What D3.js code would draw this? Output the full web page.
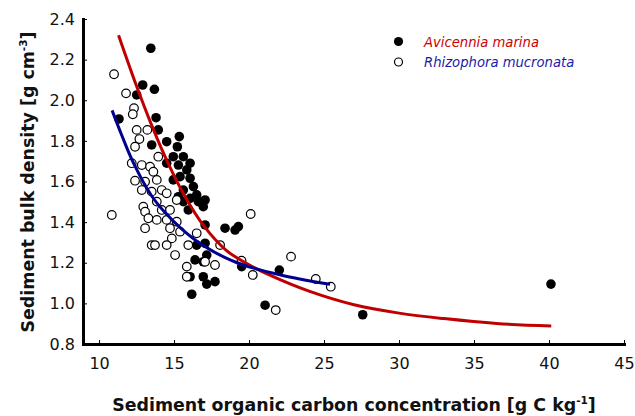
<!DOCTYPE html>
<html><head><meta charset="utf-8">
<script src="https://cdn.jsdelivr.net/npm/d3@7"></script>
<style>body{margin:0;background:#fff;}svg{display:block;}</style>
</head><body>
<svg id="c" width="635" height="416"></svg>
<script>
// Avicennia marina (filled)
const avicenniaX = [13.45,12.91,13.69,12.51,11.33,13.8,13.95,14.51,15.35,13.51,15.22,15.62,14.95,16.07,15.29,14.51,15.85,15.4,16.07,14.95,16.29,15.62,15.29,16.51,16.07,17.07,16.62,15.62,15.95,16.95,17.07,18.4,19.07,19.29,17.07,16.51,17.18,16.4,16.95,19.51,16.07,16.95,17.18,17.73,16.18,22.02,21.07,27.58,40.13];
const avicenniaY = [2.256,2.075,2.054,2.026,1.908,1.914,1.854,1.796,1.821,1.78,1.771,1.722,1.722,1.69,1.681,1.69,1.657,1.624,1.616,1.608,1.575,1.558,1.525,1.534,1.517,1.509,1.501,1.501,1.46,1.476,1.386,1.37,1.361,1.378,1.296,1.287,1.238,1.214,1.205,1.181,1.131,1.131,1.095,1.107,1.045,1.164,0.991,0.944,1.095];
// Rhizophora mucronata (open)
const rhizophoraX = [11.0,11.8,12.33,12.25,12.51,13.22,12.69,12.4,13.95,12.18,12.85,13.4,13.62,12.4,13.07,13.85,12.85,13.51,14.18,14.51,15.18,13.85,12.95,13.07,14.18,14.73,10.85,13.29,13.85,14.51,15.18,13.07,14.73,15.4,14.85,16.51,13.51,13.73,14.51,15.95,18.07,15.07,17.07,17.73,15.85,15.85,20.11,22.8,20.25,24.45,25.45,21.78,19.5];
const rhizophoraY = [2.128,2.034,1.961,1.931,1.854,1.854,1.809,1.771,1.722,1.69,1.681,1.673,1.648,1.604,1.599,1.608,1.558,1.55,1.558,1.542,1.509,1.501,1.476,1.451,1.46,1.46,1.435,1.419,1.411,1.411,1.402,1.37,1.37,1.353,1.32,1.345,1.287,1.287,1.287,1.287,1.287,1.238,1.205,1.189,1.181,1.131,1.44,1.23,1.14,1.12,1.082,0.967,1.21];
// Fitted curves
const redFitX = [11.3,12.45,13.6,14.6,15.7,17.0,18.5,20.0,21.5,24.0,27.0,30.0,33.0,36.5,40.15];
const redFitY = [2.32,2.08,1.86,1.69,1.53,1.38,1.26,1.19,1.135,1.06,0.993,0.952,0.925,0.901,0.889];
const blueFitX = [10.87,11.5,12.3,13.5,14.4,15.5,17.0,19.2,22.1,25.4];
const blueFitY = [1.95,1.83,1.69,1.53,1.447,1.367,1.282,1.2,1.14,1.094];
const xTicks = [10,15,20,25,30,35,40,45];
const yTicks = [0.8,1.0,1.2,1.4,1.6,1.8,2.0,2.2,2.4];
const seriesNames = ["Avicennia marina","Rhizophora mucronata"];

const svg = d3.select("#c");
const x = d3.scaleLinear().domain([8.93,45]).range([83,624]);
const y = d3.scaleLinear().domain([0.8,2.4]).range([344,19]);
const font = "'DejaVu Sans', Verdana, sans-serif";

// points
const filled = avicenniaX.map((v,i)=>({x:v,y:avicenniaY[i]}));
const open = rhizophoraX.map((v,i)=>({x:v,y:rhizophoraY[i]}));
svg.append("g").selectAll("circle").data(filled).join("circle")
  .attr("cx",d=>x(d.x)).attr("cy",d=>y(d.y)).attr("r",4.8).attr("fill","#000");
svg.append("g").selectAll("circle").data(open).join("circle")
  .attr("cx",d=>x(d.x)).attr("cy",d=>y(d.y)).attr("r",4.3)
  .attr("fill","#fff").attr("stroke","#000").attr("stroke-width",1.2);

const line = d3.line().x(d=>x(d[0])).y(d=>y(d[1])).curve(d3.curveCatmullRom.alpha(0.5));
svg.append("path").attr("d",line(redFitX.map((v,i)=>[v,redFitY[i]])))
  .attr("fill","none").attr("stroke","#c00000").attr("stroke-width",3);
svg.append("path").attr("d",line(blueFitX.map((v,i)=>[v,blueFitY[i]])))
  .attr("fill","none").attr("stroke","#000090").attr("stroke-width",3);

// axes
const gx = svg.append("g").attr("transform","translate(0,344)")
  .call(d3.axisBottom(x).tickValues(xTicks).tickFormat(d3.format("d")).tickSizeInner(-4).tickSizeOuter(0).tickPadding(14));
const gy = svg.append("g").attr("transform","translate(83,0)")
  .call(d3.axisLeft(y).tickValues(yTicks).tickFormat(d3.format(".1f")).tickSizeInner(-4).tickSizeOuter(0).tickPadding(8));
[gx,gy].forEach(g=>{
  g.select(".domain").attr("stroke","#000").attr("stroke-width",3).attr("stroke-linecap","square");
  g.selectAll(".tick line").attr("stroke","#000").attr("stroke-width",1);
  g.selectAll(".tick text").attr("font-family",font).attr("font-size",16).attr("fill","#111");
});

// axis titles
const xt = svg.append("text").attr("x",354).attr("y",411).attr("text-anchor","middle")
  .attr("font-family",font).attr("font-weight","bold").attr("font-size",17.4).attr("fill","#111");
xt.append("tspan").text("Sediment organic carbon concentration [g C kg");
xt.append("tspan").attr("dy",-7).attr("font-size",10.5).text("-1");
xt.append("tspan").attr("dy",7).text("]");

const yt = svg.append("text").attr("transform","translate(34,182) rotate(-90)").attr("text-anchor","middle")
  .attr("font-family",font).attr("font-weight","bold").attr("font-size",17.4).attr("fill","#111");
yt.append("tspan").text("Sediment bulk density [g cm");
yt.append("tspan").attr("dy",-7).attr("font-size",10.5).text("-3");
yt.append("tspan").attr("dy",7).text("]");

// legend
const leg = svg.append("g");
leg.append("circle").attr("cx",398.5).attr("cy",41.5).attr("r",4.6).attr("fill","#000");
leg.append("circle").attr("cx",398.5).attr("cy",62).attr("r",4).attr("fill","#fff").attr("stroke","#000").attr("stroke-width",1.2);
leg.append("text").attr("x",424).attr("y",46.5).attr("font-family",font).attr("font-style","italic")
  .attr("font-size",13.2).attr("fill","#cc0000").text(seriesNames[0]);
leg.append("text").attr("x",424).attr("y",66.5).attr("font-family",font).attr("font-style","italic")
  .attr("font-size",13.2).attr("fill","#1a1aaa").text(seriesNames[1]);
</script>
</body></html>
